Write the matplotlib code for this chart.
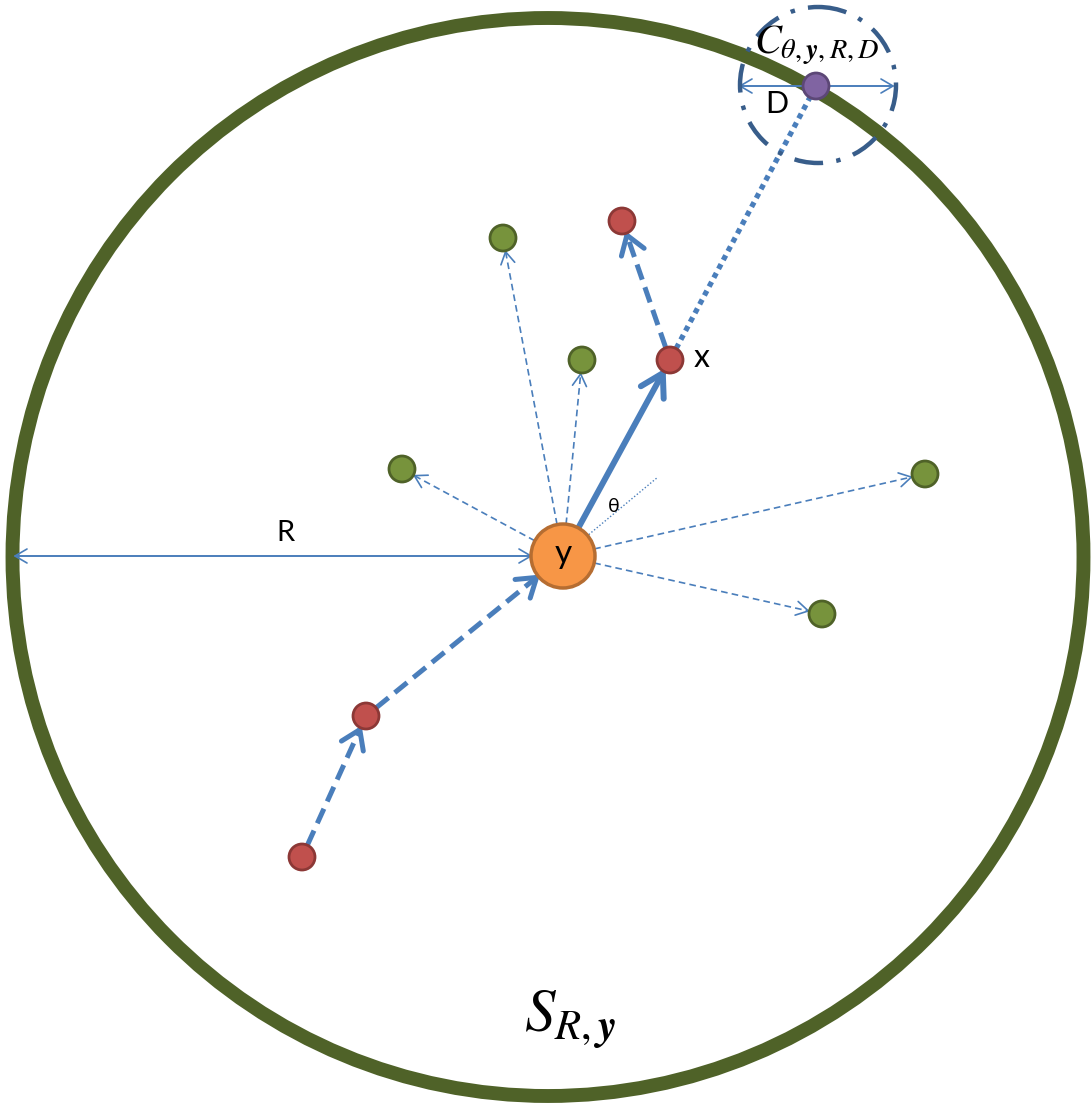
import numpy as np
import matplotlib
matplotlib.use('Agg')
import matplotlib.pyplot as plt
from matplotlib.patches import Circle, Ellipse

plt.rcParams['mathtext.fontset'] = 'stix'
plt.rcParams['font.family'] = ['Lato', 'DejaVu Sans']

# diagram coordinates (pixel-like units, y downwards)
big_center = (548, 557)
big_width = 1071
big_height = 1078
y_node = (563, 556)
y_radius = 32
node_r = 13

green_nodes = [(503, 238), (582, 360), (402, 469), (925, 474), (822, 614)]
red_nodes = {'x': (670, 360), 'top': (622, 221), 'mid': (366, 716), 'low': (302, 857)}
purple_node = (816, 86)
c_circle = (818, 85)
c_radius = 78

blue = '#4A7EBB'
dark_blue = '#385D8A'

fig = plt.figure(figsize=(10.91, 11.04), dpi=100)
ax = fig.add_axes([0, 0, 1, 1])
ax.set_xlim(0, 1091)
ax.set_ylim(1104, 0)
ax.axis('off')


def arrow(p0, p1, r0, r1, lw, ls, head=True, hl=12, hw=7):
    p0 = np.array(p0, float)
    p1 = np.array(p1, float)
    u = (p1 - p0) / np.linalg.norm(p1 - p0)
    a = p0 + u * r0
    b = p1 - u * r1
    ax.plot([a[0], b[0]], [a[1], b[1]], color=blue, lw=lw, ls=ls,
            solid_capstyle='butt', dash_capstyle='butt', zorder=2)
    if head:
        # open chevron head drawn as two short solid strokes
        n = np.array([-u[1], u[0]])
        for s in (1, -1):
            c = b - u * hl + n * hw * s
            ax.plot([c[0], b[0]], [c[1], b[1]], color=blue, lw=lw,
                    solid_capstyle='round', zorder=2)


# big circle S
ax.add_patch(Ellipse(big_center, big_width, big_height, fill=False, ec='#4F6228', lw=10, zorder=1))

# thin dashed arrows from y to the green nodes
for g in green_nodes:
    arrow(y_node, g, y_radius, node_r + 1, 1.2, (0, (4, 2.5)))

# R arrow
arrow((15, 556), (y_node[0] - y_radius, 556), 0, 0, 1.2, '-')
arrow((y_node[0] - y_radius, 556), (15, 556), 0, 0, 1.2, '-')

# theta reference line
arrow(y_node, (658, 477), y_radius - 2, 0, 1.0, (0, (1, 1.5)), head=False)

# thick solid y -> x
arrow(y_node, red_nodes['x'], y_radius, node_r + 2, 4.3, '-', hl=22, hw=13)
# thick dashed x -> top red
arrow(red_nodes['x'], red_nodes['top'], node_r, node_r + 2, 3.6, (0, (3.2, 1.6)), hl=18, hw=12)
# thick dashed low -> mid -> y
arrow(red_nodes['low'], red_nodes['mid'], node_r, node_r + 2, 3.6, (0, (3.2, 1.6)), hl=18, hw=12)
arrow(red_nodes['mid'], y_node, node_r, y_radius + 2, 3.6, (0, (3.2, 1.6)), hl=18, hw=12)
# thick dotted x -> purple
arrow(red_nodes['x'], purple_node, node_r, node_r, 3.8, (0, (1, 0.9)), head=False)

# dash-dot circle C and D arrow
ax.add_patch(Circle(c_circle, c_radius, fill=False, ec=dark_blue, lw=3.2,
                    ls=(0, (6.5, 3, 1, 3)), zorder=3))
arrow((740, 86), (893, 86), 0, 0, 1.2, '-')
arrow((893, 86), (740, 86), 0, 0, 1.2, '-')

# nodes
for g in green_nodes:
    ax.add_patch(Circle(g, node_r, fc='#77933C', ec='#4F6228', lw=2, zorder=4))
for r in red_nodes.values():
    ax.add_patch(Circle(r, node_r, fc='#C0504D', ec='#8C3836', lw=2, zorder=4))
ax.add_patch(Circle(purple_node, node_r, fc='#8064A2', ec='#5C4776', lw=2, zorder=4))
ax.add_patch(Circle(y_node, y_radius, fc='#F79646', ec='#B66D31', lw=2.5, zorder=4))

# labels
ax.text(y_node[0], y_node[1] - 2, 'y', fontsize=24, ha='center', va='center', zorder=5)
ax.text(702, 358, 'x', fontsize=23, ha='center', va='center')
ax.text(285, 533, 'R', fontsize=21, ha='center', va='center')
ax.text(777, 104, 'D', fontsize=22, ha='center', va='center')
ax.text(614, 506, 'θ', fontsize=14, ha='center', va='center')
ax.text(817, 45, r'$C_{\theta,\boldsymbol{y},R,D}$', fontsize=29, ha='center', va='center')
ax.text(570, 1020, r'$S_{R,\boldsymbol{y}}$', fontsize=44, ha='center', va='center')

fig.savefig('out.png', dpi=100)
